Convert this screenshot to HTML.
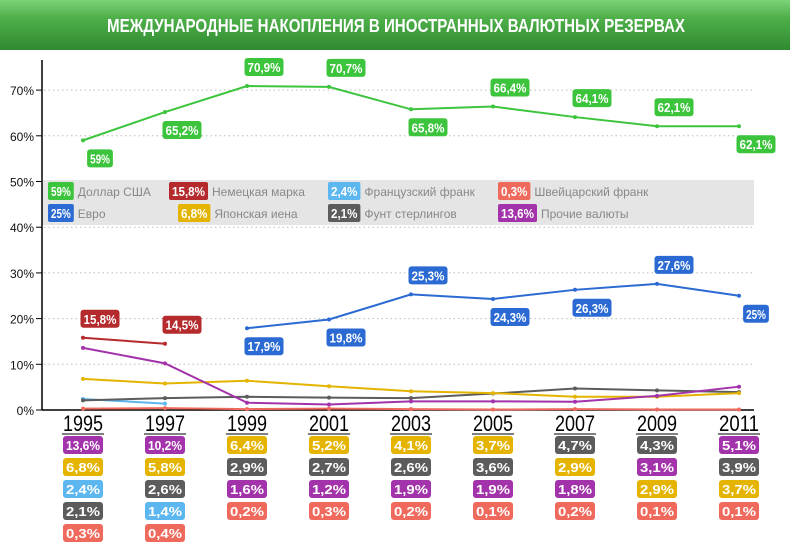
<!DOCTYPE html>
<html><head><meta charset="utf-8">
<style>
body{margin:0;width:790px;height:545px;overflow:hidden;background:#fff;font-family:"Liberation Sans",sans-serif;}
svg text{font-family:"Liberation Sans",sans-serif;}
</style></head>
<body>
<svg id="chart" width="790" height="545">
<defs><linearGradient id="hg" x1="0" y1="0" x2="0" y2="1">
<stop offset="0" stop-color="#7dd37a"/><stop offset="0.35" stop-color="#4fb04a"/><stop offset="1" stop-color="#2f8a30"/></linearGradient></defs>
<rect x="0" y="0" width="790" height="50" fill="url(#hg)"/>
<text x="107" y="32" textLength="578" lengthAdjust="spacingAndGlyphs" fill="#fff" font-size="18" font-weight="bold">МЕЖДУНАРОДНЫЕ НАКОПЛЕНИЯ В ИНОСТРАННЫХ ВАЛЮТНЫХ РЕЗЕРВАХ</text>
<g id="grid"></g><g id="legend"></g><g id="axes"></g><g id="lines"></g><g id="labels"></g><g id="table"></g>
</svg>
<script>
const years=["1995","1997","1999","2001","2003","2005","2007","2009","2011"];
const yTicks=[0,10,20,30,40,50,60,70];
const usd=[59,65.2,70.9,70.7,65.8,66.4,64.1,62.1,62.1];
const eur=[null,null,17.9,19.8,25.3,24.3,26.3,27.6,25];
const dem=[15.8,14.5,null,null,null,null,null,null,null];
const jpy=[6.8,5.8,6.4,5.2,4.1,3.7,2.9,2.9,3.7];
const frf=[2.4,1.4,null,null,null,null,null,null,null];
const gbp=[2.1,2.6,2.9,2.7,2.6,3.6,4.7,4.3,3.9];
const oth=[13.6,10.2,1.6,1.2,1.9,1.9,1.8,3.1,5.1];
const chf=[0.3,0.4,0.2,0.3,0.2,0.1,0.2,0.1,0.1];
const usdPos=["b","b","a","a","b","a","a","a","b"];
const eurPos=[null,null,"b","b","a","b","b","a","b"];
const demPos=["a","a"];
const C={usd:"#3cc43c",eur:"#2a6ad2",dem:"#b52a2c",jpy:"#e4b400",frf:"#5cb6ef",gbp:"#5c5c5c",oth:"#a233aa",chf:"#ef6a5c"};
const NS="http://www.w3.org/2000/svg";
const X=i=>83+i*82, Y=v=>410-v*4.57;
const fmt=v=>String(v).replace('.',',')+'%';
function mk(tag,attrs,parent,txt){const e=document.createElementNS(NS,tag);for(const k in attrs)e.setAttribute(k,attrs[k]);if(txt!==undefined)e.textContent=txt;document.getElementById(parent).appendChild(e);return e;}
const bw=txt=>txt.length*6.6+6;
let lb=mk('rect',{x:42,y:180,width:712,height:45,fill:'#e5e5e5'},'legend');


yTicks.forEach(t=>{
 if(t>0){let g=mk('line',{x1:44,x2:754,y1:Y(t),y2:Y(t),stroke:'#bbb','stroke-dasharray':'1.5,3'},'grid');
 
 }
 let tk=mk('line',{x1:36,x2:42,y1:Y(t),y2:Y(t),stroke:'#000'},'axes');
 
 
 let tl=mk('text',{x:34,y:Y(t)+5,'text-anchor':'end','font-size':12,fill:'#111'},'axes',t+'%');
 
 
});
let ya=mk('line',{x1:42,x2:42,y1:60,y2:410,stroke:'#000','stroke-width':1.5},'axes');


let xa=mk('line',{x1:42,x2:754,y1:410,y2:410,stroke:'#000','stroke-width':1.5},'axes');


function badge(cx,cy,txt,col,parent,name){
 const w=bw(txt);
 let r=mk('rect',{x:cx-w/2,y:cy-9,width:w,height:18,rx:3,fill:col},parent);
 
 
 let t=mk('text',{x:cx,y:cy+5,'text-anchor':'middle','font-size':13,'font-weight':'bold',fill:'#fff',textLength:w-6,lengthAdjust:'spacingAndGlyphs'},parent,txt);
 
 
}
function series(arr,col,name,pos){
 let pts=[];arr.forEach((v,i)=>{if(v!==null)pts.push([X(i),Y(v)]);});
 let p=mk('polyline',{points:pts.map(p=>p.join(',')).join(' '),fill:'none',stroke:col,'stroke-width':2},'lines');
 
 
 arr.forEach((v,i)=>{if(v===null)return;
  let c=mk('circle',{cx:X(i),cy:Y(v),r:2,fill:col},'lines');
  
  
  if(pos&&pos[i]) badge(X(i)+17,Y(v)+(pos[i]==='a'?-19:18),fmt(v),col,'labels',name);
 });
}
series(chf,C.chf,'chf');series(frf,C.frf,'frf');series(gbp,C.gbp,'gbp');series(jpy,C.jpy,'jpy');
series(oth,C.oth,'other');series(dem,C.dem,'dem',demPos);series(eur,C.eur,'eur',eurPos);series(usd,C.usd,'usd',usdPos);
const legNames=[["59%","Доллар США",C.usd,48,191],["25%","Евро",C.eur,48,213],["15,8%","Немецкая марка",C.dem,169,191],["6,8%","Японская иена",C.jpy,178,213],
["2,4%","Французский франк",C.frf,328,191],["2,1%","Фунт стерлингов",C.gbp,328,213],["0,3%","Швейцарский франк",C.chf,498,191],["13,6%","Прочие валюты",C.oth,498,213]];
legNames.forEach(l=>{
 const w=bw(l[0]);
 let r=mk('rect',{x:l[3],y:l[4]-9,width:w,height:18,rx:2,fill:l[2]},'legend');
 
 
 let t=mk('text',{x:l[3]+w/2,y:l[4]+5,'text-anchor':'middle','font-size':13,'font-weight':'bold',fill:'#fff',textLength:w-6,lengthAdjust:'spacingAndGlyphs'},'legend',l[0]);
 
 
 let n=mk('text',{x:l[3]+w+4,y:l[4]+5,'font-size':12,fill:'#888'},'legend',l[1]);
 
 
});
const others=[["oth",oth],["jpy",jpy],["frf",frf],["gbp",gbp],["chf",chf]];
years.forEach((y,i)=>{
 let t=mk('text',{x:X(i)-20,y:431,'font-size':22,fill:'#000',textLength:40,lengthAdjust:'spacingAndGlyphs'},'table',y);
 
 
 let u=mk('line',{x1:X(i)-21,x2:X(i)+21,y1:434,y2:434,stroke:'#000'},'table');
 
 
 let items=others.filter(o=>o[1][i]!==null&&o[0]!=='chf').sort((a,b)=>b[1][i]-a[1][i]);
 items.push(["chf",chf]);
 items.forEach((o,k)=>{
  let cy=445+k*22, col=C[o[0]];
  let r=mk('rect',{x:X(i)-20,y:cy-9,width:40,height:18,rx:3,fill:col},'table');
  
  
  let tx=mk('text',{x:X(i),y:cy+5,'text-anchor':'middle','font-size':13,'font-weight':'bold',fill:'#fff',textLength:34,lengthAdjust:'spacingAndGlyphs'},'table',fmt(o[1][i]));
  
  
 });
});
</script>
</body></html>
